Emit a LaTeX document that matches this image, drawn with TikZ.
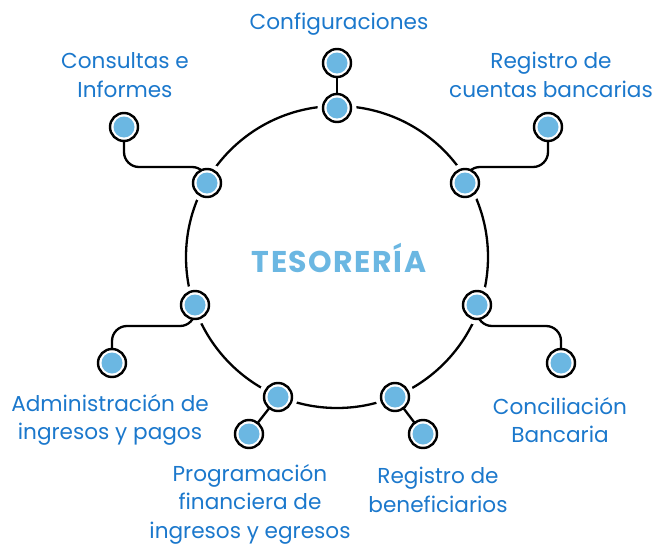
\documentclass[tikz,border=0pt]{standalone}
\usepackage{fontspec}
\setmainfont{Poppins}
\usetikzlibrary{backgrounds, positioning}
\definecolor{TextBlue}{HTML}{1B78CC}
\definecolor{DotBlue}{HTML}{6BB7E2}
\newfontfamily\titlefont[LetterSpace=5]{Poppins}
\tikzset{%
  port/.style={%
    circle,
    minimum size=28pt,
    inner sep=0pt,
    line width=2.4pt,
    draw=black,
    fill=white,
    path picture={%
      \fill[DotBlue] (path picture bounding box.center) circle (10.5pt);%
    }%
  },
  topic/.style={%
    font={\fontsize{21.6}{28.5}\selectfont},
    text=TextBlue,
    align=center,
    inner sep=0pt%
  },
  title/.style={%
    font={\titlefont\fontsize{30}{32}\selectfont\bfseries},
    text=DotBlue,
    inner sep=0pt%
  },
  ring/.style={%
    line width=2.3pt,
    draw=black%
  },
  link/.style={%
    line width=2.3pt,
    draw=black,
    rounded corners=15pt%
  }
}

\begin{document}
\begin{tikzpicture}[x=1pt, y=-1pt]
  \useasboundingbox (0,0) rectangle (670,546);

  \node [title] (Hub) at (339,258) {TESORERÍA};

  % ports on the ring
  \node [port] (CfgIn) at (337,108) {};
  \node [port] (CueIn) at (465,183) {};
  \node [port] (ConcIn) at (477,305) {};
  \node [port] (BenIn) at (395,397) {};
  \node [port] (ProgIn) at (278,397) {};
  \node [port] (AdmIn) at (195,305) {};
  \node [port] (ConsIn) at (207,183) {};

  % outer ports
  \node [port] (CfgOut) at (337,63) {};
  \node [port] (CueOut) at (548,127) {};
  \node [port] (ConcOut) at (561,363) {};
  \node [port] (BenOut) at (423,434) {};
  \node [port] (ProgOut) at (249,434) {};
  \node [port] (AdmOut) at (112,363) {};
  \node [port] (ConsOut) at (124,127) {};

  % texts
  \node [topic] (Cfg) at (339,24) {Configuraciones};
  \node [topic] (Cue) at (551,75) {Registro de\\cuentas bancarias};
  \node [topic] (Conc) at (560,420) {Conciliación\\Bancaria};
  \node [topic] (Ben) at (438,490) {Registro de\\beneficiarios};
  \node [topic] (Prog) at (250,504) {Programación\\financiera de\\ingresos y egresos};
  \node [topic] (Adm) at (110,420) {Administración de\\ingresos y pagos};
  \node [topic] (Cons) at (125,75) {Consultas e\\Informes};

  \begin{scope}[on background layer]
    \draw [ring] (337,257) circle (151);
    \foreach \p in {CfgIn, CueIn, ConcIn, BenIn, ProgIn, AdmIn, ConsIn}
      \fill [white] (\p.center) circle (19.5);

    \draw [link] (CfgIn.center) -- (CfgOut.center);
    \draw [link] (CueIn.center) |- (CueOut |- 0,167) -- (CueOut.center);
    \draw [link] (ConsIn.center) |- (ConsOut |- 0,167) -- (ConsOut.center);
    \draw [link] (ConcIn.center) |- (ConcOut |- 0,326) -- (ConcOut.center);
    \draw [link] (AdmIn.center) |- (AdmOut |- 0,326) -- (AdmOut.center);
    \draw [link] (BenIn.center) -- (BenOut.center);
    \draw [link] (ProgIn.center) -- (ProgOut.center);
  \end{scope}
\end{tikzpicture}
\end{document}
